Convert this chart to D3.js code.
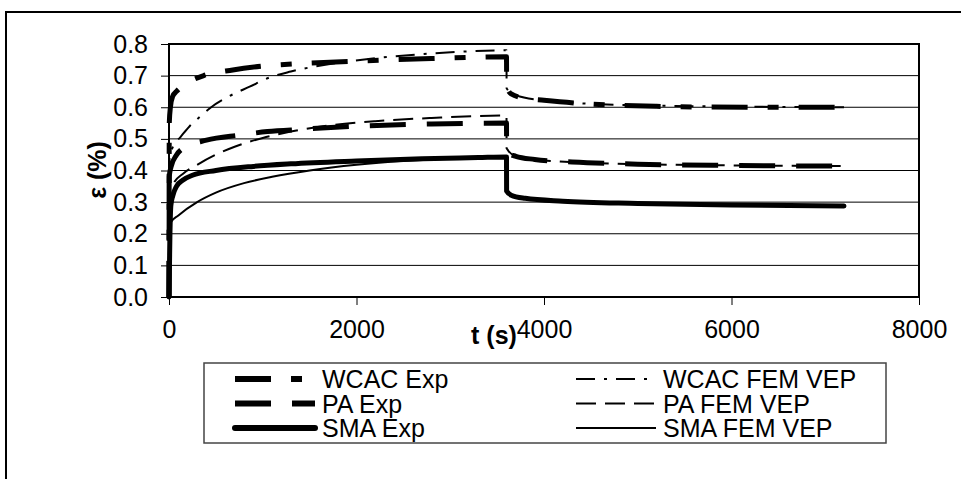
<!DOCTYPE html>
<html lang="en">
<head>
    <meta charset="UTF-8">
    <title>Strain vs time</title>
    <script src="https://d3js.org/d3.v7.min.js"></script>
    <style>
        body { margin: 0; background: #fff; }
        text { font-family: "Liberation Sans", Arial, sans-serif; fill: #000; }
    </style>
</head>
<body>
    <svg id="chart" width="961" height="479"></svg>

    <script>
        // series names and values: [t (s), strain (%)]
        const seriesNames = ["WCAC Exp", "PA Exp", "SMA Exp", "WCAC FEM VEP", "PA FEM VEP", "SMA FEM VEP"];

        const wcacExp = [[0,0],[3,0.55],[15,0.6],[40,0.635],[80,0.65],[190,0.676],[370,0.70],[680,0.718],[1000,0.73],
            [1400,0.738],[2000,0.746],[2800,0.754],[3600,0.76],[3601,0.71],[3610,0.66],[3650,0.642],[3800,0.628],
            [4000,0.622],[4500,0.61],[5200,0.603],[6200,0.60],[7200,0.60]];
        const paExp = [[0,0],[3,0.38],[20,0.41],[80,0.449],[150,0.47],[400,0.496],[750,0.512],[1050,0.523],[1400,0.53],
            [2000,0.54],[2800,0.547],[3600,0.55],[3601,0.47],[3620,0.455],[3700,0.445],[3900,0.435],[4300,0.427],
            [5000,0.42],[6000,0.416],[7200,0.414]];
        const smaExp = [[0,0],[10,0.2],[20,0.29],[40,0.32],[80,0.35],[150,0.37],[250,0.385],[500,0.40],[900,0.413],
            [1300,0.421],[2000,0.43],[2700,0.437],[3300,0.441],[3600,0.443],[3601,0.335],[3650,0.322],[3800,0.312],
            [4200,0.303],[5000,0.296],[6000,0.291],[7200,0.288]];
        const wcacFem = [[0,0],[5,0.44],[50,0.48],[120,0.505],[220,0.54],[330,0.57],[450,0.60],[630,0.633],[860,0.665],
            [1080,0.695],[1300,0.713],[1700,0.736],[2200,0.755],[2800,0.77],[3600,0.78],[3601,0.66],[3700,0.638],
            [4000,0.622],[5000,0.606],[7200,0.60]];
        const paFem = [[0,0],[5,0.33],[50,0.36],[150,0.39],[300,0.418],[500,0.45],[700,0.475],[1000,0.503],[1300,0.523],
            [1700,0.542],[2200,0.556],[2800,0.566],[3600,0.574],[3601,0.47],[3700,0.445],[4000,0.432],[5000,0.42],
            [7200,0.414]];
        const smaFem = [[0,0],[15,0.235],[100,0.258],[300,0.30],[500,0.33],[800,0.36],[1100,0.38],[1500,0.40],
            [2000,0.418],[2500,0.43],[3000,0.437],[3600,0.442],[3601,0.335],[3650,0.322],[3800,0.312],[4200,0.303],
            [5000,0.296],[6000,0.291],[7200,0.288]];

        const xTicks = [0, 2000, 4000, 6000, 8000];
        const yTicks = [0, 0.1, 0.2, 0.3, 0.4, 0.5, 0.6, 0.7, 0.8];

        const svg = d3.select("#chart");

        const x = d3.scaleLinear().domain([0, 8000]).range([169, 919]);
        const y = d3.scaleLinear().domain([0, 0.8]).range([297, 44]);

        // outer chart frame
        svg.append("rect")
            .attr("x", 6).attr("y", 12)
            .attr("width", 1000).attr("height", 500)
            .attr("fill", "none")
            .attr("stroke", "black")
            .attr("stroke-width", 2);

        // gridlines
        svg.append("g")
            .selectAll("line")
            .data(yTicks.slice(1, -1))
            .join("line")
            .attr("x1", x(0)).attr("x2", x(8000))
            .attr("y1", d => y(d)).attr("y2", d => y(d))
            .attr("stroke", "black")
            .attr("stroke-width", 1);

        // axes
        const yAxis = d3.axisLeft(y).tickValues(yTicks).tickSize(8).tickPadding(13).tickFormat(d3.format(".1f"));
        const xAxis = d3.axisBottom(x).tickValues(xTicks).tickSize(8).tickPadding(15).tickFormat(d3.format("d"));

        const gy = svg.append("g").attr("transform", `translate(${x(0)},0)`).call(yAxis);
        const gx = svg.append("g").attr("transform", `translate(0,${y(0)})`).call(xAxis);

        [gy, gx].forEach(g => {
            g.select(".domain").remove();
            g.selectAll("line").attr("stroke", "black").attr("stroke-width", 1);
            g.selectAll("text").attr("font-size", "25px").attr("font-family", "Liberation Sans, Arial, sans-serif");
        });

        // plot frame
        svg.append("rect")
            .attr("x", x(0)).attr("y", y(0.8))
            .attr("width", x(8000) - x(0)).attr("height", y(0) - y(0.8))
            .attr("fill", "none")
            .attr("stroke", "black")
            .attr("stroke-width", 2);

        // axis titles
        svg.append("text")
            .attr("x", 494).attr("y", 344)
            .attr("text-anchor", "middle")
            .attr("font-size", "25px")
            .attr("font-weight", "bold")
            .text("t (s)");

        svg.append("text")
            .attr("transform", "translate(106,170) rotate(-90)")
            .attr("text-anchor", "middle")
            .attr("font-size", "25px")
            .attr("font-weight", "bold")
            .text("ε (%)");

        // line styles per series
        const series = [
            {name: seriesNames[0], data: wcacExp, width: 5, dash: "36,20,11,20", cap: "butt"},
            {name: seriesNames[1], data: paExp, width: 5, dash: "36,21", cap: "butt"},
            {name: seriesNames[2], data: smaExp, width: 5, dash: null, cap: "round"},
            {name: seriesNames[3], data: wcacFem, width: 2, dash: "19,9,3,9", cap: "butt"},
            {name: seriesNames[4], data: paFem, width: 2, dash: "20,9", cap: "butt"},
            {name: seriesNames[5], data: smaFem, width: 2, dash: null, cap: "butt"}
        ];

        const line = d3.line()
            .x(d => x(d[0]))
            .y(d => y(d[1]))
            .curve(d3.curveMonotoneX);

        // draw thin model lines first, experimental on top
        [3, 4, 5, 0, 1, 2].forEach(i => {
            const s = series[i];
            svg.append("path")
                .attr("d", line(s.data))
                .attr("fill", "none")
                .attr("stroke", "black")
                .attr("stroke-width", s.width)
                .attr("stroke-linecap", s.cap)
                .attr("stroke-linejoin", "round")
                .attr("stroke-dasharray", s.dash);
        });

        // legend
        const legend = svg.append("g");
        legend.append("rect")
            .attr("x", 204).attr("y", 363)
            .attr("width", 682).attr("height", 80)
            .attr("fill", "white")
            .attr("stroke", "#444")
            .attr("stroke-width", 1.5);

        const colX = [235, 576];
        const rowY = [379, 403.5, 428];

        series.forEach((s, i) => {
            const cx = colX[Math.floor(i / 3)];
            const cy = rowY[i % 3];
            legend.append("line")
                .attr("x1", cx).attr("x2", cx + 80)
                .attr("y1", cy).attr("y2", cy)
                .attr("stroke", "black")
                .attr("stroke-width", s.width === 5 ? 6 : 2)
                .attr("stroke-linecap", s.cap)
                .attr("stroke-dasharray", s.dash);
            legend.append("text")
                .attr("x", cx + 87).attr("y", cy)
                .attr("dy", "0.36em")
                .attr("font-size", "25px")
                .text(s.name);
        });
    </script>
</body>
</html>
